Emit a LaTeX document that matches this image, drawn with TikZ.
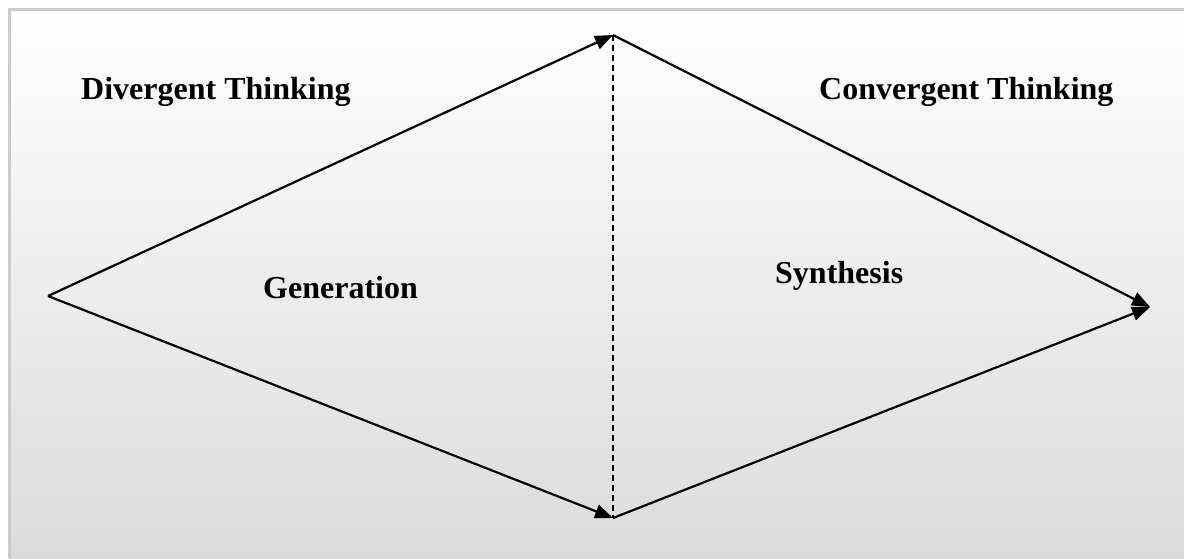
\documentclass[tikz,border=0pt]{standalone}
\usepackage{fontspec}
\setmainfont{Liberation Serif}
\usetikzlibrary{arrows.meta}

\definecolor{framegray}{rgb}{0.80,0.80,0.80}
\definecolor{bgbottom}{rgb}{0.86,0.86,0.86}

\tikzset{
    flow/.style={black, line width=2.2pt, -{Triangle[length=18pt,width=14pt]}},
    label/.style={inner sep=0pt, anchor=base west, font=\fontsize{32}{38}\selectfont\bfseries}
}

\begin{document}
\begin{tikzpicture}[x=1pt, y=-1pt]
        \useasboundingbox (0,0) rectangle (1184,558);
        \shade[top color=white, bottom color=bgbottom] (9,9) rectangle (1184,558);
        \draw[framegray, line width=3pt] (9,558) -- (9,9) -- (1184,9);

        \coordinate (left) at (48,296);
        \coordinate (top) at (613,35);
        \coordinate (bottom) at (613,518);
        \coordinate (right) at (1150,307);

        \draw[flow] (left) -- (top);
        \draw[flow] (left) -- (bottom);
        \draw[flow] (top) -- (right);
        \draw[flow] (bottom) -- (right);
        \draw[black, line width=1.5pt, dash pattern=on 6pt off 4pt] (top) -- (bottom);

        \node[label] (div) at (81,99) {Divergent Thinking};
        \node[label] (conv) at (819,99) {Convergent Thinking};
        \node[label] (gen) at (263,298) {Generation};
        \node[label] (syn) at (775,283) {Synthesis};
    \end{tikzpicture}
\end{document}
